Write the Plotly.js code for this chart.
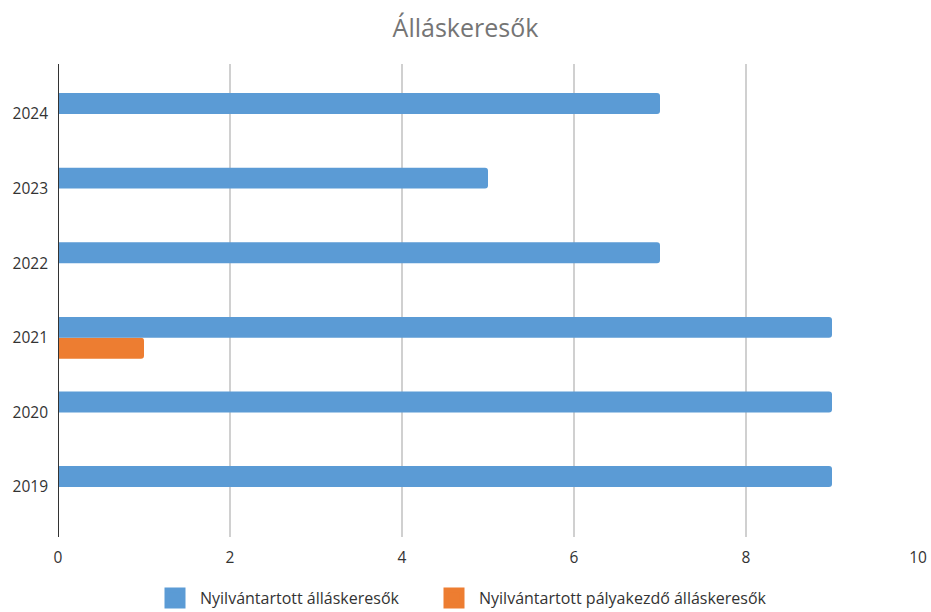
<!DOCTYPE html>
<html>
<head>
<meta charset="utf-8">
<script src="https://cdn.plot.ly/plotly-3.0.1.min.js"></script>
<style>html,body{margin:0;padding:0;background:#fff}#chart{width:931px;height:612px}</style>
</head>
<body>
<div id="chart"></div>
<script>
const years = ["2019", "2020", "2021", "2022", "2023", "2024"];
const registered = [9, 9, 9, 7, 5, 7];
const careerStarters = [0, 0, 1, 0, 0, 0];
const seriesNames = ["Nyilvántartott álláskeresők", "Nyilvántartott pályakezdő álláskeresők"];
const seriesColors = ["#5B9BD5", "#ED7D31"];
const xTicks = [0, 2, 4, 6, 8, 10];

const font = "Open Sans, Noto Sans, sans-serif";
const data = [
  {type: "bar", orientation: "h", name: seriesNames[1], y: years, x: careerStarters,
   marker: {color: seriesColors[1]}, showlegend: false, hoverinfo: "x+y"},
  {type: "bar", orientation: "h", name: seriesNames[0], y: years, x: registered,
   marker: {color: seriesColors[0]}, showlegend: false, hoverinfo: "x+y"},
  // legend entries (no data drawn)
  {type: "scatter", mode: "markers", name: seriesNames[0], x: [null], y: [null], legend: "legend",
   marker: {symbol: "square", size: 22, color: seriesColors[0], line: {color: seriesColors[0], width: 5}}},
  {type: "scatter", mode: "markers", name: seriesNames[1], x: [null], y: [null], legend: "legend2",
   marker: {symbol: "square", size: 22, color: seriesColors[1], line: {color: seriesColors[1], width: 5}}}
];
const legendBase = {orientation: "h", xref: "container", xanchor: "left",
  yref: "container", y: 14/612, yanchor: "middle", itemsizing: "trace", itemwidth: 40,
  font: {size: 16, color: "#333"}, bgcolor: "rgba(0,0,0,0)"};
const layout = {
  width: 931, height: 612,
  margin: {l: 58, r: 13, t: 64, b: 75},
  paper_bgcolor: "#fff", plot_bgcolor: "#fff",
  font: {family: font, color: "#333", size: 16},
  title: {text: "Álláskeresők", font: {family: font, size: 25, color: "#757575"},
          x: 0.5, xref: "container", xanchor: "center", y: 1 - 28/612, yref: "container", yanchor: "middle"},
  barmode: "group", bargap: 0.44, bargroupgap: 0, barcornerradius: 3,
  xaxis: {range: [0, 10], tickvals: xTicks, ticktext: xTicks.map(String), showgrid: true,
          gridcolor: "#d0d0d0", gridwidth: 1.5, zeroline: false, showline: false, ticks: "",
          ticklabelstandoff: 9, tickfont: {size: 15.5, color: "#333"}, fixedrange: true},
  yaxis: {type: "category", categoryorder: "array", categoryarray: years, range: [-0.67, 5.67],
          showgrid: false, zeroline: false, showline: false, ticks: "", ticklabelstandoff: 9,
          tickfont: {size: 15.5, color: "#333"}, fixedrange: true},
  shapes: [{type: "line", xref: "x", yref: "paper", x0: 0, x1: 0, y0: 0, y1: 1,
            line: {color: "#333", width: 2}}],
  legend: Object.assign({}, legendBase, {x: 150/931}),
  legend2: Object.assign({}, legendBase, {x: 429/931}),
  showlegend: true
};
Plotly.newPlot("chart", data, layout, {displayModeBar: false, staticPlot: true});
</script>
</body>
</html>
